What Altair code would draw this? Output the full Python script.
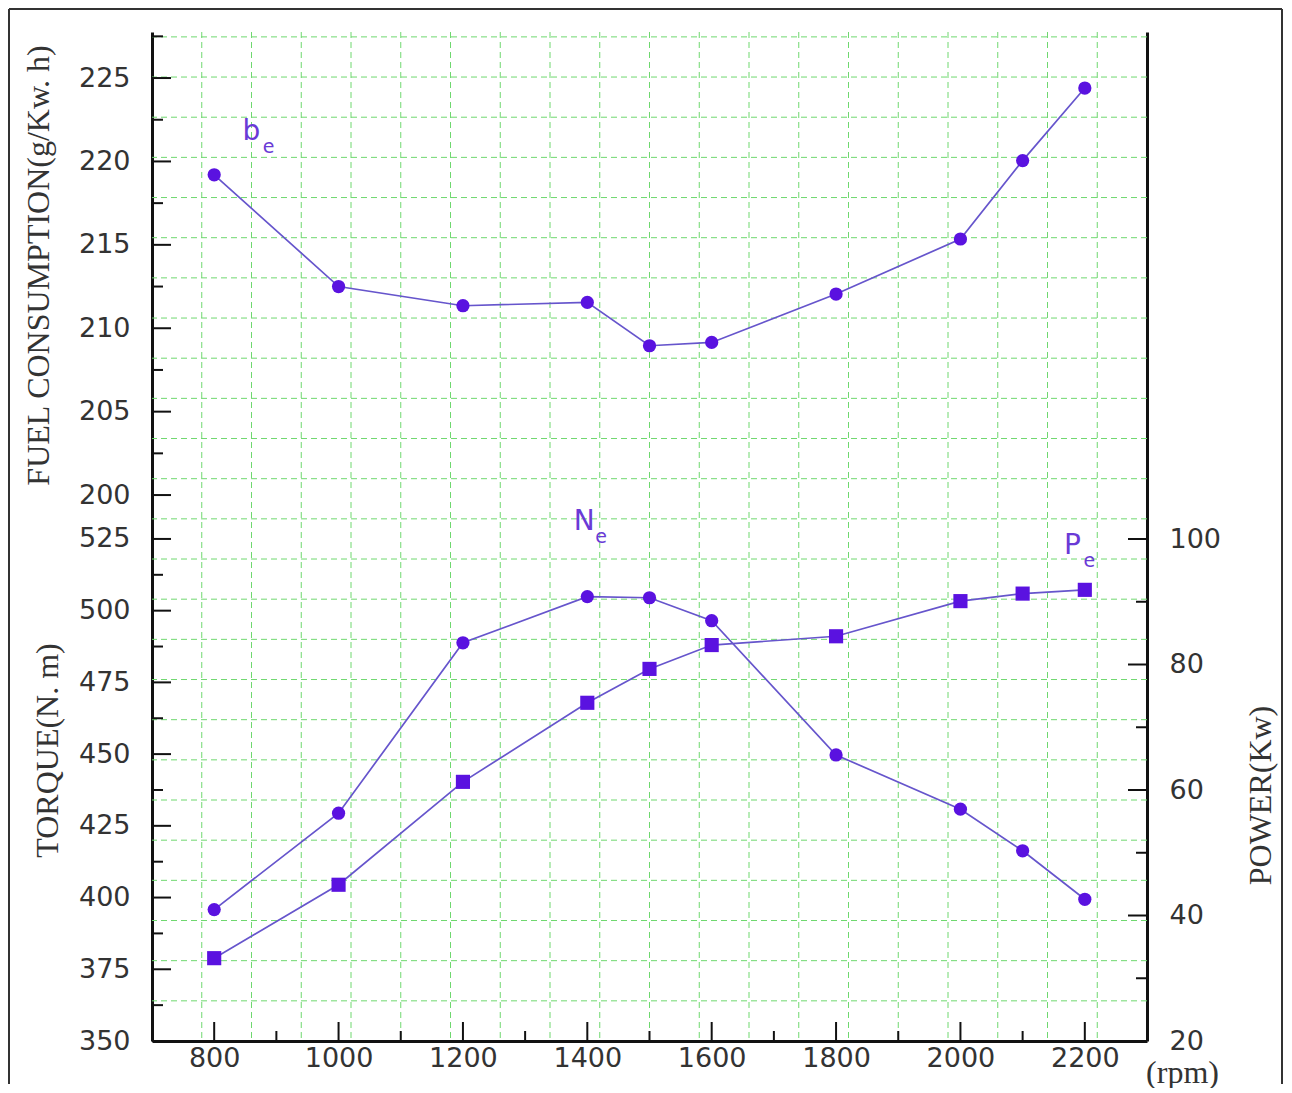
import altair as alt
import pandas as pd

# ---------------- data ----------------
rpm = [800, 1000, 1200, 1400, 1500, 1600, 1800, 2000, 2100, 2200]
fuel = [219.2, 212.5, 211.35, 211.55, 208.95, 209.15, 212.05, 215.35, 220.05, 224.4]
torque = [395.8, 429.4, 488.8, 504.9, 504.5, 496.5, 449.7, 430.8, 416.3, 399.4]
power = [33.2, 44.9, 61.3, 73.9, 79.3, 83.1, 84.5, 90.1, 91.3, 91.9]

x_labels = [800, 1000, 1200, 1400, 1600, 1800, 2000, 2200]
x_minor = [900, 1100, 1300, 1500, 1700, 1900, 2100]
fuel_labels = [200, 205, 210, 215, 220, 225]
fuel_minor = [202.5, 207.5, 212.5, 217.5, 222.5, 227.5]
torque_labels = [350, 375, 400, 425, 450, 475, 500, 525]
torque_minor = [362.5, 387.5, 412.5, 437.5, 462.5, 487.5, 512.5]
power_labels = [20, 40, 60, 80, 100]
power_minor = [30, 50, 70, 90]

grid_rpm = [780, 860, 940, 1020, 1100, 1180, 1260, 1340, 1420, 1500,
            1580, 1660, 1740, 1820, 1900, 1980, 2060, 2140, 2220]
grid_torque = [364, 378, 392, 406, 420, 434, 448, 462, 476, 490, 504, 518, 532,
               546, 560, 574, 588, 602, 616, 630, 644, 658, 672, 686, 700]

fuel_note = pd.DataFrame({"t": ["b"], "rpm": [860], "v": [221.75]})
torque_note = pd.DataFrame({"t": ["N"], "rpm": [1395], "v": [531.0]})
power_note = pd.DataFrame({"t": ["P"], "rpm": [2180], "v": [98.9]})

# ---------------- styling ----------------
W, H = 995, 1009
GRID = "#6fd86f"
LINE = "#6655cc"
PT = "#5a12e0"
NOTE = "#6a3ad6"
AX = "#111111"
LBL = "#333333"
TICK_FONT = "DejaVu Sans"
TITLE_FONT = "Liberation Serif"

x_scale = alt.Scale(domain=[700, 2300], nice=False, zero=False)
fuel_scale = alt.Scale(domain=[167.27, 227.76], nice=False, zero=False)
torque_scale = alt.Scale(domain=[350, 701.7], nice=False, zero=False)
power_scale = alt.Scale(domain=[20, 180.8], nice=False, zero=False)

df = pd.DataFrame({"rpm": rpm, "fuel": fuel, "torque": torque, "power": power})


def vals(v):
    return pd.DataFrame({"v": v})


label_common = dict(labelFont=TICK_FONT, labelFontSize=27, labelColor=LBL,
                    titleFont=TITLE_FONT, titleFontSize=32, titleFontWeight="normal",
                    titleColor=LBL, grid=False, ticks=False)

x_axis = alt.Axis(orient="bottom", values=x_labels, format="d", domain=True, domainColor=AX,
                  domainWidth=3, labelPadding=4, title="(rpm)", titleX=1030, titleY=31,
                  titleBaseline="middle", titleAlign="center", **label_common)
fuel_axis = alt.Axis(orient="left", values=fuel_labels, domain=False, labelPadding=22,
                     title="FUEL CONSUMPTION(g/Kw. h)", titleX=-97, titleY=233,
                     titleAngle=270, titleBaseline="bottom", titleAlign="center", **label_common)
torque_axis = alt.Axis(orient="left", values=torque_labels, domain=True, domainColor=AX,
                       domainWidth=3, labelPadding=22, title="TORQUE(N. m)", titleX=-88,
                       titleY=718, titleAngle=270, titleBaseline="bottom", titleAlign="center",
                       **label_common)
power_axis = alt.Axis(orient="right", values=power_labels, domain=True, domainColor=AX,
                      domainWidth=3, labelPadding=22, title="POWER(Kw)", titleX=130,
                      titleY=763, titleAngle=270, titleBaseline="bottom", titleAlign="center",
                      **label_common)


def X(field):
    return alt.X(field, scale=x_scale, axis=x_axis)


# outer frame (left, top, right edges)
frame_l = alt.Chart(vals([0])).mark_rule(color="#333333", strokeWidth=2).encode(
    x=alt.value(-143), y=alt.value(-23), y2=alt.value(1052))
frame_r = alt.Chart(vals([0])).mark_rule(color="#333333", strokeWidth=2).encode(
    x=alt.value(1130), y=alt.value(-23), y2=alt.value(1052))
frame_t = alt.Chart(vals([0])).mark_rule(color="#333333", strokeWidth=2).encode(
    x=alt.value(-143), x2=alt.value(1130), y=alt.value(-23))

vgrid = alt.Chart(vals(grid_rpm)).mark_rule(color=GRID, strokeWidth=1, strokeDash=[6, 4]).encode(
    x=X("v:Q"))
hgrid = alt.Chart(vals(grid_torque)).mark_rule(color=GRID, strokeWidth=1, strokeDash=[6, 4]).encode(
    y=alt.Y("v:Q", scale=torque_scale, axis=None))


def yticks(values, scale, x0, x1):
    return alt.Chart(vals(values)).mark_rule(color=AX, strokeWidth=2).encode(
        y=alt.Y("v:Q", scale=scale, axis=None), x=alt.value(x0), x2=alt.value(x1))


def xticks(values, length):
    return alt.Chart(vals(values)).mark_rule(color=AX, strokeWidth=2).encode(
        x=X("v:Q"), y=alt.value(H - length), y2=alt.value(H))


base = alt.Chart(df)

fuel_line = base.mark_line(color=LINE, strokeWidth=1.7).encode(
    x=X("rpm:Q"), y=alt.Y("fuel:Q", scale=fuel_scale, axis=fuel_axis))
fuel_pts = base.mark_circle(size=175, color=PT, opacity=1).encode(
    x=X("rpm:Q"), y=alt.Y("fuel:Q", scale=fuel_scale, axis=None))

torque_line = base.mark_line(color=LINE, strokeWidth=1.7).encode(
    x=X("rpm:Q"), y=alt.Y("torque:Q", scale=torque_scale, axis=torque_axis))
torque_pts = base.mark_circle(size=175, color=PT, opacity=1).encode(
    x=X("rpm:Q"), y=alt.Y("torque:Q", scale=torque_scale, axis=None))

power_line = base.mark_line(color=LINE, strokeWidth=1.7).encode(
    x=X("rpm:Q"), y=alt.Y("power:Q", scale=power_scale, axis=power_axis))
power_pts = base.mark_square(size=200, color=PT, opacity=1).encode(
    x=X("rpm:Q"), y=alt.Y("power:Q", scale=power_scale, axis=None))


def note(df_note, scale):
    main = alt.Chart(df_note).mark_text(font=TICK_FONT, fontSize=28, color=NOTE,
                                        align="center", baseline="middle").encode(
        x=X("rpm:Q"), y=alt.Y("v:Q", scale=scale, axis=None), text="t:N")
    sub = alt.Chart(df_note).mark_text(font=TICK_FONT, fontSize=19, color=NOTE,
                                       align="center", baseline="middle", dx=17, dy=15).encode(
        x=X("rpm:Q"), y=alt.Y("v:Q", scale=scale, axis=None), text=alt.value("e"))
    return [main, sub]


layers = [frame_l, frame_r, frame_t, vgrid, hgrid,
          yticks(fuel_labels, fuel_scale, 0, 19), yticks(fuel_minor, fuel_scale, 0, 11),
          yticks(torque_labels, torque_scale, 0, 19), yticks(torque_minor, torque_scale, 0, 11),
          yticks(power_labels, power_scale, W - 19, W), yticks(power_minor, power_scale, W - 11, W),
          xticks(x_labels, 19), xticks(x_minor, 10),
          fuel_line, fuel_pts, torque_line, torque_pts, power_line, power_pts]
layers += note(fuel_note, fuel_scale)
layers += note(torque_note, torque_scale)
layers += note(power_note, power_scale)

chart = alt.layer(*layers).resolve_scale(y="independent").properties(
    width=W, height=H, padding=0, background="white"
).configure_view(stroke=None)

chart.save("out.html", embed_options={"renderer": "svg", "actions": False})
